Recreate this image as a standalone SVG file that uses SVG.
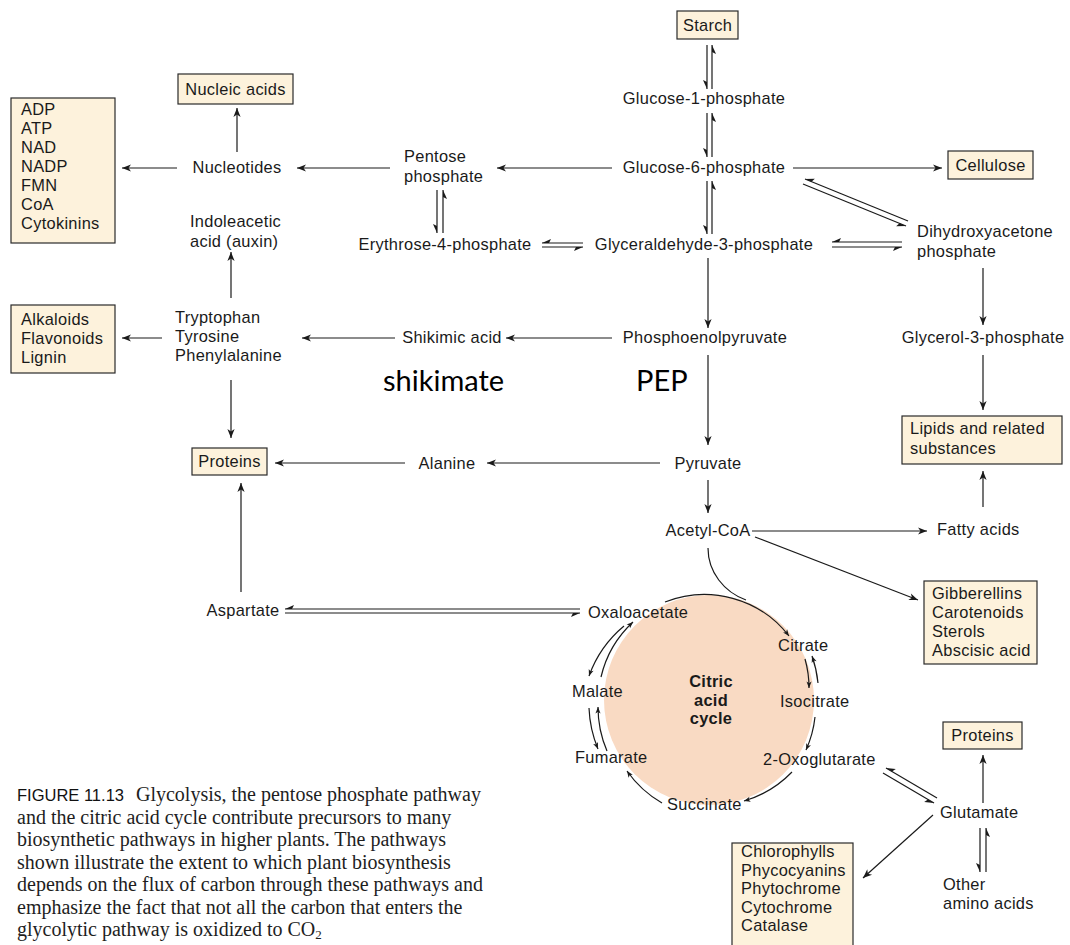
<svg xmlns="http://www.w3.org/2000/svg" width="1070" height="945" viewBox="0 0 1070 945">
<defs>
<marker id="a" viewBox="-10 -5 12 10" refX="0" refY="0" markerWidth="12" markerHeight="10" markerUnits="userSpaceOnUse" orient="auto">
<path d="M0,0 L-9,-3.6 L-6.5,0 L-9,3.6 Z" fill="#1a1a1a"/>
</marker>
<marker id="h" viewBox="-10 -5 12 10" refX="0" refY="0" markerWidth="12" markerHeight="10" markerUnits="userSpaceOnUse" orient="auto">
<path d="M0,0 L-9,4 L-7,0 Z" fill="#1a1a1a"/>
</marker>
<marker id="s" viewBox="-10 -5 12 10" refX="0" refY="0" markerWidth="10" markerHeight="8" markerUnits="userSpaceOnUse" orient="auto">
<path d="M0,0 L-8,-3.2 L-6,0 L-8,3.2 Z" fill="#1a1a1a"/>
</marker>
</defs>
<style>
text{font-family:"Liberation Sans",Arial,sans-serif;font-size:16.4px;letter-spacing:0.3px;fill:#1a1a1a}
.m{text-anchor:middle}
.b{font-weight:bold}
.box{fill:#fdf2dc;stroke:#2a2a2a;stroke-width:1.2}
.c{fill:none;stroke:#1a1a1a;stroke-width:1.2}
.ar{marker-end:url(#a)}
.hp{marker-end:url(#h)}
.sa{marker-end:url(#s)}
.big{font-family:Lato,"Liberation Sans",sans-serif;font-size:29px;letter-spacing:0;fill:#000}
.cap{font-family:"Liberation Serif",serif;font-size:20px;letter-spacing:0;fill:#1e1e1e}
.capl{font-family:"Liberation Sans",sans-serif;font-size:16.5px;fill:#111}
</style>
<rect width="1070" height="945" fill="#ffffff"/>

<g id="cycle-bg"><circle cx="709" cy="700" r="105" fill="#f9dac3"/></g>

<g id="connectors">
<path class="c hp" d="M707,45 L707,89"/><path class="c hp" d="M712,89 L712,45"/>
<path class="c hp" d="M707,113 L707,157"/><path class="c hp" d="M712,157 L712,113"/>
<path class="c hp" d="M707,181 L707,234"/><path class="c hp" d="M712,234 L712,181"/>
<path class="c ar" d="M612,168 L497,168"/>
<path class="c ar" d="M390,168 L297,168"/>
<path class="c ar" d="M177,168 L122,168"/>
<path class="c ar" d="M237,152 L237,108"/>
<path class="c hp" d="M437,190 L437,233"/><path class="c hp" d="M443,233 L443,190"/>
<path class="c hp" d="M583,243 L542,243"/><path class="c hp" d="M542,247 L583,247"/>
<path class="c ar" d="M793,168 L942,168"/>
<path class="c hp" d="M908,221 L805,179"/><path class="c hp" d="M803,184 L906,226"/>
<path class="c hp" d="M902,242 L832,242"/><path class="c hp" d="M832,247 L902,247"/>
<path class="c ar" d="M983,268 L983,325"/>
<path class="c ar" d="M983,355 L983,410"/>
<path class="c ar" d="M983,507 L983,471"/>
<path class="c ar" d="M708,258 L708,328"/>
<path class="c ar" d="M612,338 L506,338"/>
<path class="c ar" d="M395,338 L302,338"/>
<path class="c ar" d="M162,338 L122,338"/>
<path class="c ar" d="M231,298 L231,252"/>
<path class="c ar" d="M231,380 L231,438"/>
<path class="c ar" d="M708,355 L708,445"/>
<path class="c ar" d="M660,463 L487,463"/>
<path class="c ar" d="M405,463 L275,463"/>
<path class="c ar" d="M241,592 L241,483"/>
<path class="c ar" d="M708,480 L708,513"/>
<path class="c ar" d="M752,531 L927,531"/>
<path class="c ar" d="M755,537 L918,600"/>
<path class="c hp" d="M580,609 L285,609"/><path class="c hp" d="M285,613 L580,613"/>
<path class="c hp" d="M937,798 L886,768"/><path class="c hp" d="M883,773 L934,803"/>
<path class="c ar" d="M983,803 L983,755"/>
<path class="c hp" d="M980,828 L980,872"/><path class="c hp" d="M986,872 L986,828"/>
<path class="c ar" d="M933,815 L863,878"/>
<path class="c sa" d="M665,602 A107,107 0 0 1 789,636"/>
<path class="c" d="M708,548 C708,572 724,592 746,600"/>
<path class="c sa" d="M805,659 A104,104 0 0 1 809,688"/>
<path class="c sa" d="M818,683 A111,111 0 0 0 812,656"/>
<path class="c sa" d="M815,717 A108,108 0 0 1 806,750"/>
<path class="c sa" d="M792,772 A110,110 0 0 1 744,801"/>
<path class="c sa" d="M662,803 A110,110 0 0 1 627,771"/>
<path class="c sa" d="M607,751 A111,111 0 0 1 598,707"/>
<path class="c sa" d="M589,708 A119,119 0 0 0 598,749"/>
<path class="c sa" d="M624,626 A116,116 0 0 0 589,676"/>
<path class="c sa" d="M601,677 A109,109 0 0 1 633,622"/>
</g>

<g id="starch"><rect class="box" x="677" y="11" width="61" height="28"/><text class="m" x="707.5" y="31">Starch</text></g>
<g id="g1p"><text class="m" x="704" y="104">Glucose-1-phosphate</text></g>
<g id="g6p"><text class="m" x="704" y="173">Glucose-6-phosphate</text></g>
<g id="gap"><text class="m" x="704" y="250">Glyceraldehyde-3-phosphate</text></g>
<g id="pep"><text class="m" x="705" y="343">Phosphoenolpyruvate</text></g>
<g id="pyruvate"><text class="m" x="708" y="469">Pyruvate</text></g>
<g id="acetylcoa"><text class="m" x="708" y="536">Acetyl-CoA</text></g>
<g id="pentose"><text x="404" y="162">Pentose</text><text x="404" y="182">phosphate</text></g>
<g id="nucleotides"><text class="m" x="237" y="173">Nucleotides</text></g>
<g id="nucleic"><rect class="box" x="178" y="74" width="115" height="30"/><text class="m" x="235.5" y="95">Nucleic acids</text></g>
<g id="cofactors"><rect class="box" x="11" y="98" width="104" height="145"/>
<text x="21" y="115">ADP</text><text x="21" y="134">ATP</text><text x="21" y="153">NAD</text><text x="21" y="172">NADP</text><text x="21" y="191">FMN</text><text x="21" y="210">CoA</text><text x="21" y="229">Cytokinins</text></g>
<g id="iaa"><text x="190" y="227">Indoleacetic</text><text x="190" y="247">acid (auxin)</text></g>
<g id="e4p"><text class="m" x="445" y="250">Erythrose-4-phosphate</text></g>
<g id="cellulose"><rect class="box" x="948" y="151" width="85" height="28"/><text class="m" x="990.5" y="171">Cellulose</text></g>
<g id="dhap"><text x="917" y="237">Dihydroxyacetone</text><text x="917" y="257">phosphate</text></g>
<g id="glycerol"><text class="m" x="983" y="343">Glycerol-3-phosphate</text></g>
<g id="lipids"><rect class="box" x="902" y="416" width="160" height="48"/><text x="910" y="434">Lipids and related</text><text x="910" y="454">substances</text></g>
<g id="fatty"><text x="937" y="535">Fatty acids</text></g>
<g id="terpenoids"><rect class="box" x="924" y="581" width="113" height="83"/>
<text x="932" y="599">Gibberellins</text><text x="932" y="618">Carotenoids</text><text x="932" y="637">Sterols</text><text x="932" y="656">Abscisic acid</text></g>
<g id="shikimic"><text class="m" x="452" y="343">Shikimic acid</text></g>
<g id="aromatic"><text x="175" y="323">Tryptophan</text><text x="175" y="342">Tyrosine</text><text x="175" y="361">Phenylalanine</text></g>
<g id="alkaloids"><rect class="box" x="11" y="305" width="104" height="68"/>
<text x="21" y="325">Alkaloids</text><text x="21" y="344">Flavonoids</text><text x="21" y="363">Lignin</text></g>
<g id="proteins1"><rect class="box" x="192" y="448" width="75" height="27"/><text class="m" x="229.5" y="467">Proteins</text></g>
<g id="alanine"><text class="m" x="447" y="469">Alanine</text></g>
<g id="aspartate"><text class="m" x="243" y="616">Aspartate</text></g>
<g id="oaa"><text x="588" y="618">Oxaloacetate</text></g>
<g id="citrate"><text x="778" y="651">Citrate</text></g>
<g id="isocitrate"><text x="780" y="707">Isocitrate</text></g>
<g id="oxoglutarate"><text x="763" y="765">2-Oxoglutarate</text></g>
<g id="succinate"><text x="667" y="810">Succinate</text></g>
<g id="fumarate"><text x="575" y="763">Fumarate</text></g>
<g id="malate"><text x="572" y="697">Malate</text></g>
<g id="tca"><text class="m b" x="711" y="687">Citric</text><text class="m b" x="711" y="705.5">acid</text><text class="m b" x="711" y="724">cycle</text></g>
<g id="proteins2"><rect class="box" x="943" y="722" width="79" height="27"/><text class="m" x="982.5" y="741">Proteins</text></g>
<g id="glutamate"><text x="940" y="818">Glutamate</text></g>
<g id="otheraa"><text x="943" y="890">Other</text><text x="943" y="908.5">amino acids</text></g>
<g id="pigments"><rect class="box" x="732" y="843" width="121" height="106"/>
<text x="741" y="857">Chlorophylls</text><text x="741" y="875.5">Phycocyanins</text><text x="741" y="894">Phytochrome</text><text x="741" y="912.5">Cytochrome</text><text x="741" y="931">Catalase</text></g>

<g id="annotations"><text class="big" x="383" y="391">shikimate</text><text class="big" x="636" y="391">PEP</text></g>

<g id="caption">
<text class="cap" x="17" y="801"><tspan class="capl">FIGURE 11.13</tspan><tspan dx="12">Glycolysis, the pentose phosphate pathway</tspan></text>
<text class="cap" x="17" y="823.5">and the citric acid cycle contribute precursors to many</text>
<text class="cap" x="17" y="846">biosynthetic pathways in higher plants. The pathways</text>
<text class="cap" x="17" y="868.5">shown illustrate the extent to which plant biosynthesis</text>
<text class="cap" x="17" y="891">depends on the flux of carbon through these pathways and</text>
<text class="cap" x="17" y="913.5">emphasize the fact that not all the carbon that enters the</text>
<text class="cap" x="17" y="936">glycolytic pathway is oxidized to CO<tspan dy="3" style="font-size:13px">2</tspan></text>
</g>
</svg>
